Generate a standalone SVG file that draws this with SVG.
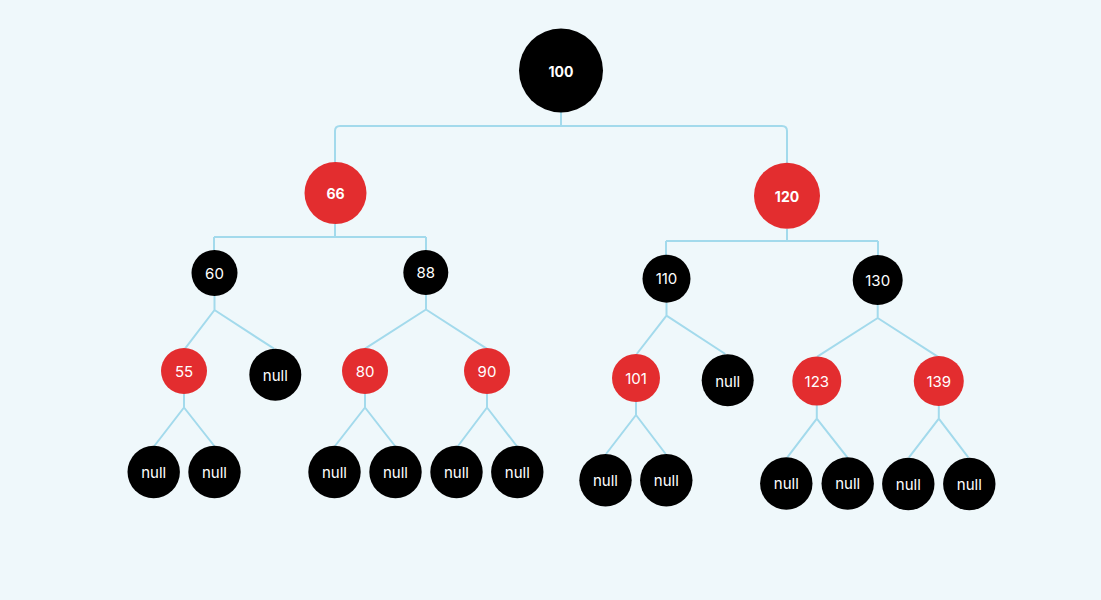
<svg xmlns="http://www.w3.org/2000/svg" width="1101" height="600" viewBox="0 0 1101 600">
<style>
.e{fill:none;stroke:#A3DAEC;stroke-width:2;stroke-linejoin:round}
.b{fill:#000}
.r{fill:#E32D2F}
.t{fill:#fff;font-family:Inter,"Noto Sans",sans-serif;font-size:15px;text-anchor:middle;dominant-baseline:central}
.tb{font-weight:700;font-size:14px}
</style>
<rect width="1101" height="600" fill="#EFF8FB"/>
<g id="connectors" class="e">
<path d="M561 112V126M340 126H782Q787 126 787 131V163M340 126Q335 126 335 131V163"/>
<path d="M335 224V237M214 237H426M214 237V250M426 237V250"/>
<path d="M787 229V241M666 241H878M666 241V255M878 241V255"/>
<path d="M214.5 296V310L185 348.7M214.5 310L274 348.7"/>
<path d="M184 394V407.5L154.3 446M184 407.5L214.3 446"/>
<path d="M426 295V309.5L365 348.7M426 309.5L486.7 348.7"/>
<path d="M365 394V407.5L335 446M365 407.5L395 446"/>
<path d="M487 394V407.5L458 446M487 407.5L516.7 446"/>
<path d="M666.5 303V315.7L636.7 354M666.5 315.7L725.3 354"/>
<path d="M636 402V415L606 454M636 415L665.7 454"/>
<path d="M877.7 305V318L817.3 356.7M877.7 318L937.7 356.7"/>
<path d="M816.8 405V418.7L787.3 457.3M816.8 418.7L847.3 457.3"/>
<path d="M938.8 406V418.7L909 457.3M938.8 418.7L968.3 457.3"/>
</g>
<g id="n100"><circle class="b" cx="561" cy="70.5" r="42"/><text class="t tb" x="561" y="71">100</text></g>
<g id="n66"><circle class="r" cx="335.5" cy="193" r="31"/><text class="t tb" x="335.5" y="193">66</text></g>
<g id="n120"><circle class="r" cx="787" cy="195.7" r="33"/><text class="t tb" x="787" y="196">120</text></g>
<g id="n60"><circle class="b" cx="214.5" cy="273" r="23"/><text class="t" x="214.5" y="273">60</text></g>
<g id="n88"><circle class="b" cx="425.8" cy="272.5" r="22.5"/><text class="t" x="425.8" y="272.5">88</text></g>
<g id="n110"><circle class="b" cx="666.5" cy="278.7" r="24"/><text class="t" x="666.5" y="278.7">110</text></g>
<g id="n130"><circle class="b" cx="877.7" cy="280" r="25"/><text class="t" x="877.7" y="280">130</text></g>
<g id="n55"><circle class="r" cx="184" cy="371" r="23"/><text class="t" x="184" y="371">55</text></g>
<g id="null60"><circle class="b" cx="275.3" cy="374.7" r="26"/><text class="t" x="275.3" y="375.5">null</text></g>
<g id="n80"><circle class="r" cx="365" cy="371" r="23"/><text class="t" x="365" y="371">80</text></g>
<g id="n90"><circle class="r" cx="487" cy="371" r="23"/><text class="t" x="487" y="371">90</text></g>
<g id="n101"><circle class="r" cx="636" cy="378" r="24"/><text class="t" x="636" y="378">101</text></g>
<g id="null110"><circle class="b" cx="727.7" cy="380.3" r="26"/><text class="t" x="727.7" y="381">null</text></g>
<g id="n123"><circle class="r" cx="816.8" cy="381" r="24.5"/><text class="t" x="816.8" y="381">123</text></g>
<g id="n139"><circle class="r" cx="938.8" cy="381" r="25"/><text class="t" x="938.8" y="381">139</text></g>
<g id="null55a"><circle class="b" cx="153.7" cy="472" r="26.2"/><text class="t" x="153.7" y="472">null</text></g>
<g id="null55b"><circle class="b" cx="214.5" cy="472" r="26.2"/><text class="t" x="214.5" y="472">null</text></g>
<g id="null80a"><circle class="b" cx="334.5" cy="472" r="26.2"/><text class="t" x="334.5" y="472">null</text></g>
<g id="null80b"><circle class="b" cx="395.5" cy="472" r="26.2"/><text class="t" x="395.5" y="472">null</text></g>
<g id="null90a"><circle class="b" cx="456.5" cy="472" r="26.2"/><text class="t" x="456.5" y="472">null</text></g>
<g id="null90b"><circle class="b" cx="517.3" cy="472" r="26.2"/><text class="t" x="517.3" y="472">null</text></g>
<g id="null101a"><circle class="b" cx="605.5" cy="480.3" r="26.2"/><text class="t" x="605.5" y="480.3">null</text></g>
<g id="null101b"><circle class="b" cx="666.3" cy="480.3" r="26.2"/><text class="t" x="666.3" y="480.3">null</text></g>
<g id="null123a"><circle class="b" cx="786.3" cy="483.5" r="26.2"/><text class="t" x="786.3" y="483.5">null</text></g>
<g id="null123b"><circle class="b" cx="847.7" cy="483.5" r="26.2"/><text class="t" x="847.7" y="483.5">null</text></g>
<g id="null139a"><circle class="b" cx="908.3" cy="484" r="26.2"/><text class="t" x="908.3" y="484">null</text></g>
<g id="null139b"><circle class="b" cx="969.3" cy="484" r="26.2"/><text class="t" x="969.3" y="484">null</text></g>
</svg>
